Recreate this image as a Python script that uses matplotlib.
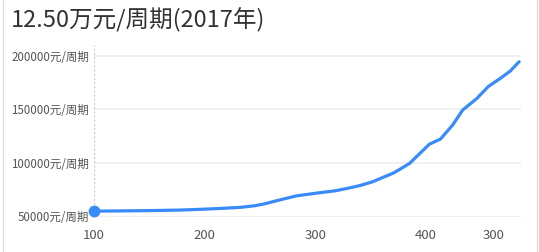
import matplotlib
matplotlib.use("Agg")
import matplotlib.pyplot as plt
from matplotlib.lines import Line2D

plt.rcParams['font.family'] = ['Noto Sans CJK SC', 'DejaVu Sans']

title = "12.50万元/周期(2017年)"
x_vals = [100, 123, 150, 178, 196, 214, 232, 245, 254, 268, 283, 304, 318, 329,
          340, 352, 361, 370, 377, 385, 394, 403, 413, 424, 433, 446, 456, 467, 476, 484]
y_vals = [55000, 55200, 55500, 56000, 56700, 57500, 58500, 60000, 61800, 65500,
          69300, 72200, 74000, 76300, 78800, 82500, 86500, 90300, 94500, 99500,
          108500, 117500, 122300, 135400, 149300, 160300, 171100, 178900, 185700, 194400]
y_ticks = [50000, 100000, 150000, 200000]
y_labels = [f"{v}元/周期" for v in y_ticks]
x_ticks = [100, 200, 300, 400, 461]
x_labels = ["100", "200", "300", "400", "300"]

fig = plt.figure(figsize=(5.39, 2.52), dpi=100)
ax = fig.add_axes([94/539, 1-216.5/252, (521-94)/539, (216.5-45)/252])
ax.set_xlim(100, 485.7)
ax.set_ylim(50000, 210000)

for v in y_ticks:
    ax.axhline(v, color='#eeeeee', lw=1.2, zorder=1)
ax.axvline(100, color='#cccccc', lw=1, ls=(0, (1.5, 1.5)), zorder=1)

color = '#3a8bfa'
ax.plot(x_vals, y_vals, color=color, lw=2.3, solid_capstyle='round', zorder=3, clip_on=False)
ax.plot([x_vals[0]], [y_vals[0]], 'o', color=color, ms=7.5, zorder=4, clip_on=False)

for s in ax.spines.values():
    s.set_visible(False)
ax.set_yticks(y_ticks)
ax.set_yticklabels(y_labels)
ax.set_xticks(x_ticks)
ax.set_xticklabels(x_labels)
ax.tick_params(axis='y', length=0, pad=3.5, labelsize=8.3, labelcolor='#555555')
ax.tick_params(axis='x', length=0, pad=9, labelsize=9.5, labelcolor='#555555')

fig.text(11/539, 1-20/252, title, fontsize=17, color='#333333', va='center', ha='left')
fig.add_artist(Line2D([2.5/539, 2.5/539], [0, 1], color='#dddddd', lw=1, transform=fig.transFigure))
fig.add_artist(Line2D([537/539, 537/539], [0, 1], color='#dddddd', lw=1, transform=fig.transFigure))

fig.savefig("out.png", dpi=100)
